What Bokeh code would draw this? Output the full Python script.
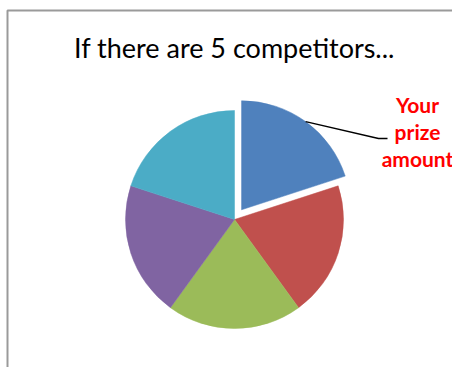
import math
from bokeh.plotting import figure
from bokeh.models import Range1d
from bokeh.core.properties import value
from bokeh.embed import file_html
from bokeh.resources import INLINE

title_text = "If there are 5 competitors..."
competitors = ["You", "Competitor 2", "Competitor 3", "Competitor 4", "Competitor 5"]
shares = [1, 1, 1, 1, 1]
colors = ["#4F81BD", "#C0504D", "#9BBB59", "#8064A2", "#4BACC6"]
explode = [12, 0, 0, 0, 0]
callout_lines = ["Your", "prize", "amount"]

W, H = 452, 367
p = figure(width=W, height=H, output_backend="svg", toolbar_location=None,
           x_range=Range1d(0, W), y_range=Range1d(0, H), min_border=0)
p.axis.visible = False
p.grid.visible = False
p.outline_line_color = None
p.background_fill_color = "white"
p.border_fill_color = "white"

def Y(py):
    return H - py

# frame
p.line([7, 7, W + 5], [Y(H + 5), Y(10), Y(10)], line_color="#9A9A9A", line_width=2)

# title
p.text([234], [Y(47)], text=[title_text], text_align="center", text_baseline="middle",
       text_font=value("Lato"), text_font_size="27px", text_color="#000000")

cx, cy, r = 234, Y(219), 109
total = sum(shares)
cum = 0.0
xs, ys, sa, ea = [], [], [], []
for i, s in enumerate(shares):
    a_start = 90 - (cum + s) / total * 360
    a_end = 90 - cum / total * 360
    mid = math.radians((a_start + a_end) / 2)
    xs.append(cx + explode[i] * math.cos(mid))
    ys.append(cy + explode[i] * math.sin(mid))
    sa.append(math.radians(a_start))
    ea.append(math.radians(a_end))
    cum += s

p.wedge(x=xs, y=ys, radius=r, start_angle=sa, end_angle=ea, direction="anticlock",
        fill_color=colors, line_color=colors, line_width=0.5)

# leader line from the exploded slice's arc midpoint
mid0 = (sa[0] + ea[0]) / 2
lx0 = xs[0] + r * math.cos(mid0)
ly0 = ys[0] + r * math.sin(mid0)
p.line([lx0, 378, 387], [ly0, Y(138), Y(138)], line_color="black", line_width=1.5)

for k, t in enumerate(callout_lines):
    p.text([417], [Y(104 + k * 27)], text=[t], text_align="center", text_baseline="middle",
           text_font=value("Lato"), text_font_size="21px", text_font_style="bold",
           text_color="#FF0000")

open("out.html", "w").write(file_html(p, INLINE))
